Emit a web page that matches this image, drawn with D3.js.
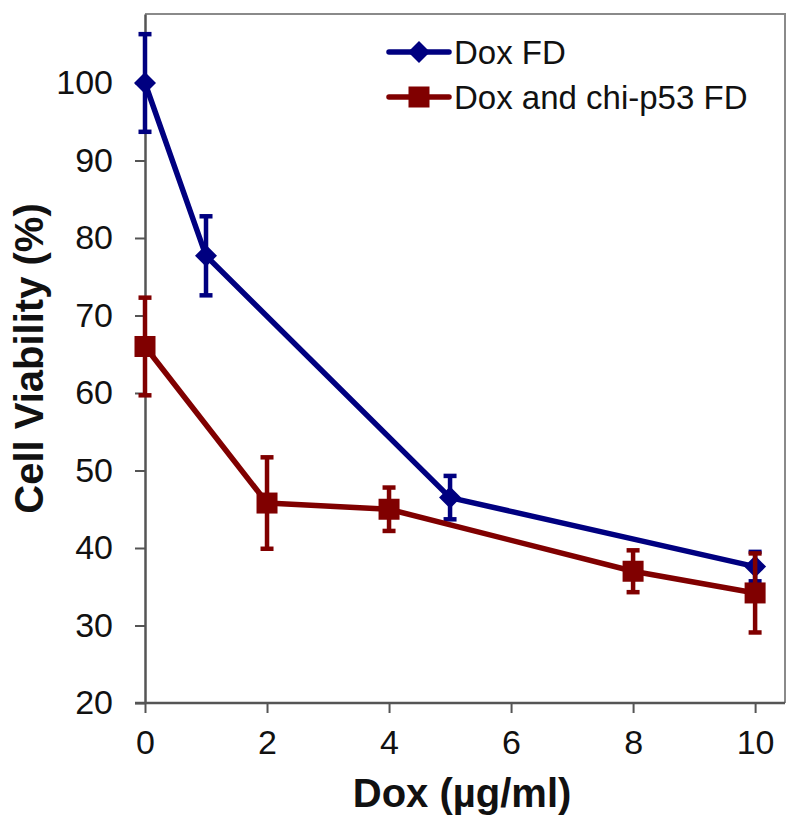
<!DOCTYPE html>
<html>
<head>
<meta charset="utf-8">
<script src="https://cdn.jsdelivr.net/npm/d3@7.9.0/dist/d3.min.js"></script>
<style>
  body { margin: 0; background: #fff; }
  svg { display: block; font-family: Arial, "Liberation Sans", sans-serif; }
</style>
</head>
<body>
<div id="chart"></div>
<script>
// ---- data ----
const xTicks    = [0, 2, 4, 6, 8, 10];
const yTicks    = [20, 30, 40, 50, 60, 70, 80, 90, 100];

const doxX      = [0, 1, 5, 10];
const doxY      = [100, 77.7, 46.5, 37.6];
const doxErr    = [6.3, 5.1, 2.8, 1.9];

const chiX      = [0, 2, 4, 8, 10];
const chiY      = [66, 45.8, 45.0, 37.0, 34.2];
const chiErr    = [6.3, 5.9, 2.8, 2.7, 5.1];

const seriesNames = ['Dox FD', 'Dox and chi-p53 FD'];

const series = [
  { name: seriesNames[0], color: '#000080', shape: 'diamond',
    pts: doxX.map((x, i) => ({ x, y: doxY[i], e: doxErr[i] })) },
  { name: seriesNames[1], color: '#800000', shape: 'square',
    pts: chiX.map((x, i) => ({ x, y: chiY[i], e: chiErr[i] })) },
];

// ---- layout ----
const W = 800, H = 830;
const margin = { top: 14, right: 15, bottom: 127, left: 145 };
const width  = W - margin.left - margin.right;
const height = H - margin.top - margin.bottom;

const svg = d3.select('#chart').append('svg')
  .attr('width', W).attr('height', H);

const g = svg.append('g')
  .attr('transform', `translate(${margin.left},${margin.top})`);

const x = d3.scaleLinear().domain([0, 10.49]).range([0, width]);
const y = d3.scaleLinear().domain([20, 108.9]).range([height, 0]);

// frame (top + right)
g.append('path')
  .attr('d', `M0,0H${width}V${height}`)
  .attr('fill', 'none').attr('stroke', '#8a8a8a').attr('stroke-width', 2);

// axes
const xAxis = g.append('g')
  .attr('transform', `translate(0,${height})`)
  .call(d3.axisBottom(x).tickValues(xTicks).tickSize(10).tickPadding(17).tickSizeOuter(0));
const yAxis = g.append('g')
  .call(d3.axisLeft(y).tickValues(yTicks).tickSize(10).tickPadding(22).tickSizeOuter(0));

[xAxis, yAxis].forEach(a => {
  a.select('.domain').attr('stroke', '#555').attr('stroke-width', 2.5);
  a.selectAll('.tick line').attr('stroke', '#555').attr('stroke-width', 2);
  a.selectAll('.tick text').attr('fill', '#111')
    .style('font-size', '34px').style('font-family', 'Arial, "Liberation Sans", sans-serif');
});
// bottom axis line runs a little past the y axis
xAxis.select('.domain').attr('d', `M-10,0H${width}`);

// titles
svg.append('text')
  .attr('x', margin.left + x(5) + 12).attr('y', 807)
  .attr('text-anchor', 'middle')
  .style('font-size', '40px').style('font-weight', 'bold')
  .attr('fill', '#111')
  .text('Dox (µg/ml)');

svg.append('text')
  .attr('transform', `translate(43,${margin.top + height / 2}) rotate(-90)`)
  .attr('text-anchor', 'middle')
  .style('font-size', '40px').style('font-weight', 'bold')
  .attr('fill', '#111')
  .text('Cell Viability (%)');

// marker shapes
function marker(sel, s) {
  if (s.shape === 'diamond') {
    sel.append('path')
      .attr('d', 'M0,-11L11,0L0,11L-11,0Z')
      .attr('fill', s.color);
  } else {
    sel.append('rect')
      .attr('x', -10.5).attr('y', -10.5).attr('width', 21).attr('height', 21)
      .attr('fill', s.color);
  }
}

const line = d3.line().x(d => x(d.x)).y(d => y(d.y));

series.forEach(s => {
  const sg = g.append('g');
  // error bars
  const eb = sg.selectAll('.err').data(s.pts).join('g').attr('class', 'err')
    .attr('stroke', s.color).attr('stroke-width', 4.5);
  eb.append('line')
    .attr('x1', d => x(d.x)).attr('x2', d => x(d.x))
    .attr('y1', d => y(d.y + d.e)).attr('y2', d => y(d.y - d.e));
  eb.append('line')
    .attr('x1', d => x(d.x) - 6.5).attr('x2', d => x(d.x) + 6.5)
    .attr('y1', d => y(d.y + d.e)).attr('y2', d => y(d.y + d.e));
  eb.append('line')
    .attr('x1', d => x(d.x) - 6.5).attr('x2', d => x(d.x) + 6.5)
    .attr('y1', d => y(d.y - d.e)).attr('y2', d => y(d.y - d.e));
  // line
  sg.append('path').datum(s.pts)
    .attr('d', line)
    .attr('fill', 'none').attr('stroke', s.color).attr('stroke-width', 5.5)
    .attr('stroke-linejoin', 'round');
  // markers
  sg.selectAll('.mk').data(s.pts).join('g').attr('class', 'mk')
    .attr('transform', d => `translate(${x(d.x)},${y(d.y)})`)
    .each(function () { marker(d3.select(this), s); });
});

// legend
const leg = svg.append('g').attr('transform', 'translate(389,52)');
series.forEach((s, i) => {
  const r = leg.append('g').attr('transform', `translate(0,${i * 45})`);
  r.append('line').attr('x1', 0).attr('x2', 60).attr('y1', 0).attr('y2', 0)
    .attr('stroke', s.color).attr('stroke-width', 5.5).attr('stroke-linecap', 'round');
  const m = r.append('g').attr('transform', 'translate(30,0)');
  marker(m, s);
  r.append('text').attr('x', 65).attr('y', 12)
    .style('font-size', '33px').attr('fill', '#111')
    .text(s.name);
});
</script>
</body>
</html>
